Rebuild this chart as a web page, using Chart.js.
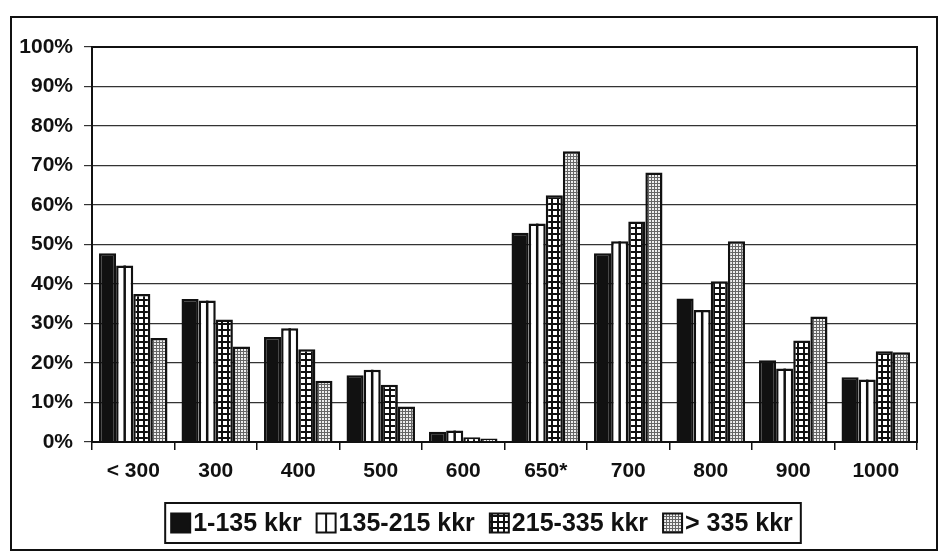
<!DOCTYPE html>
<html>
<head>
<meta charset="utf-8">
<script src="https://cdn.jsdelivr.net/npm/chart.js@4/dist/chart.umd.min.js"></script>
<style>
  body { margin: 0; background: #fff; }
  #wrap { position: relative; width: 938px; height: 556px; }
  #frame { position: absolute; left: 10px; top: 16px; width: 924px; height: 531px;
           border: 2px solid #111; pointer-events: none; }
</style>
</head>
<body>
<div id="wrap">
  <canvas id="chart" width="938" height="556"></canvas>
  <div id="frame"></div>
</div>
<script>
// Categorias (eixo x) e valores, em %
const categories = ['< 300', '300', '400', '500', '600', '650*', '700', '800', '900', '1000'];
const seriesNames = ['1-135 kkr', '135-215 kkr', '215-335 kkr', '> 335 kkr'];
const low     = [47.8, 36.2, 26.6, 16.9, 2.6, 53.0, 47.8, 36.3, 20.7, 16.4];
const midLow  = [44.7, 35.8, 28.8, 18.3, 2.9, 55.3, 50.8, 33.4, 18.6, 15.8];
const midHigh = [37.5, 31.0, 23.5, 14.5, 1.2, 62.5, 55.8, 40.7, 25.7, 23.0];
const high    = [26.3, 24.2, 15.5, 9.0, 0.9, 73.6, 68.2, 50.8, 31.8, 22.7];
const yTicks = [0, 10, 20, 30, 40, 50, 60, 70, 80, 90, 100];

const ink = '#111';
const fontName = "'Liberation Sans', Arial, sans-serif";

// Padrões de preenchimento (quadriculado e pontilhado)
function gridPattern() {
    const c = document.createElement('canvas');
    c.width = 6; c.height = 6;
    const g = c.getContext('2d');
    g.fillStyle = ink; g.fillRect(0, 0, 6, 6);
    g.fillStyle = '#fff'; g.fillRect(1, 1, 4, 4);
    return g.createPattern(c, 'repeat');
}

function dotPattern() {
    const c = document.createElement('canvas');
    c.width = 3; c.height = 3;
    const g = c.getContext('2d');
    g.fillStyle = '#666'; g.fillRect(0, 0, 3, 3);
    g.fillStyle = '#eee'; g.fillRect(1, 1, 2, 2);
    return g.createPattern(c, 'repeat');
}

// Desenha a linha central de uma barra "listrada"
function centerLine(ctx, x, y0, y1) {
    ctx.beginPath();
    ctx.moveTo(x, y0);
    ctx.lineTo(x, y1);
    ctx.stroke();
}

// Linhas das barras listradas, moldura da área do gráfico e legenda própria
const extras = {
    id: 'extras',
    afterDatasetsDraw(chart) {
        const ctx = chart.ctx;
        ctx.save();
        ctx.strokeStyle = ink;
        ctx.lineWidth = 2.5;
        chart.getDatasetMeta(1).data.forEach(bar => centerLine(ctx, bar.x, bar.y, bar.base));
        const a = chart.chartArea;
        ctx.lineWidth = 2;
        ctx.strokeRect(a.left, a.top, a.right - a.left, a.bottom - a.top);
        ctx.restore();
    },
    afterDraw(chart) {
        const ctx = chart.ctx;
        const box = 19, gapText = 3, gapItem = 15;
        const midY = 523;
        const centerX = 482;
        ctx.save();
        ctx.font = 'bold 25px ' + fontName;
        ctx.textBaseline = 'middle';
        ctx.textAlign = 'left';
        const widths = seriesNames.map(t => ctx.measureText(t).width);
        const total = widths.reduce((s, w) => s + w + box + gapText, 0) + gapItem * (seriesNames.length - 1);
        let x = centerX - total / 2;
        const start = x;
        chart.data.datasets.forEach((ds, i) => {
            ctx.fillStyle = ds.backgroundColor;
            ctx.fillRect(x, midY - box / 2, box, box);
            ctx.strokeStyle = ink;
            ctx.lineWidth = 2;
            ctx.strokeRect(x, midY - box / 2, box, box);
            if (i === 1) centerLine(ctx, x + box / 2, midY - box / 2, midY + box / 2);
            ctx.fillStyle = ink;
            ctx.fillText(seriesNames[i], x + box + gapText, midY + 1);
            x += box + gapText + widths[i] + gapItem;
        });
        const end = x - gapItem;
        ctx.lineWidth = 2;
        ctx.strokeRect(start - 6, midY - 20, end - start + 14, 40);
        ctx.restore();
    }
};

Chart.defaults.font.family = fontName;
Chart.defaults.color = ink;

const ctx = document.getElementById('chart').getContext('2d');

const common = { borderColor: ink, borderWidth: 2.5, categoryPercentage: 0.83, barPercentage: 1.0 };

new Chart(ctx, {
    type: 'bar',
    data: {
        labels: categories,
        datasets: [
            { label: seriesNames[0], data: low, backgroundColor: ink, ...common },
            { label: seriesNames[1], data: midLow, backgroundColor: '#fff', ...common },
            { label: seriesNames[2], data: midHigh, backgroundColor: gridPattern(), ...common },
            { label: seriesNames[3], data: high, backgroundColor: dotPattern(), ...common }
        ]
    },
    options: {
        responsive: false,
        animation: false,
        layout: { padding: { left: 0, top: 47, right: 21, bottom: 54 } },
        plugins: {
            tooltip: { enabled: false },
            legend: { display: false }
        },
        scales: {
            x: {
                afterFit: s => { s.height = 60; },
                grid: { offset: true, drawOnChartArea: false, tickLength: 8, color: ink, lineWidth: 1.5 },
                border: { color: ink, width: 2 },
                ticks: { padding: 9, font: { size: 21, weight: 'bold' }, color: ink }
            },
            y: {
                min: 0,
                max: 100,
                afterFit: s => { s.width = 92; },
                afterBuildTicks: s => { s.ticks = yTicks.map(v => ({ value: v })); },
                grid: { color: '#333', lineWidth: 1.2, tickLength: 8 },
                border: { color: ink, width: 2 },
                ticks: {
                    padding: 11,
                    font: { size: 21, weight: 'bold' },
                    color: ink,
                    callback: v => v + '%'
                }
            }
        }
    },
    plugins: [extras]
});
</script>
</body>
</html>
